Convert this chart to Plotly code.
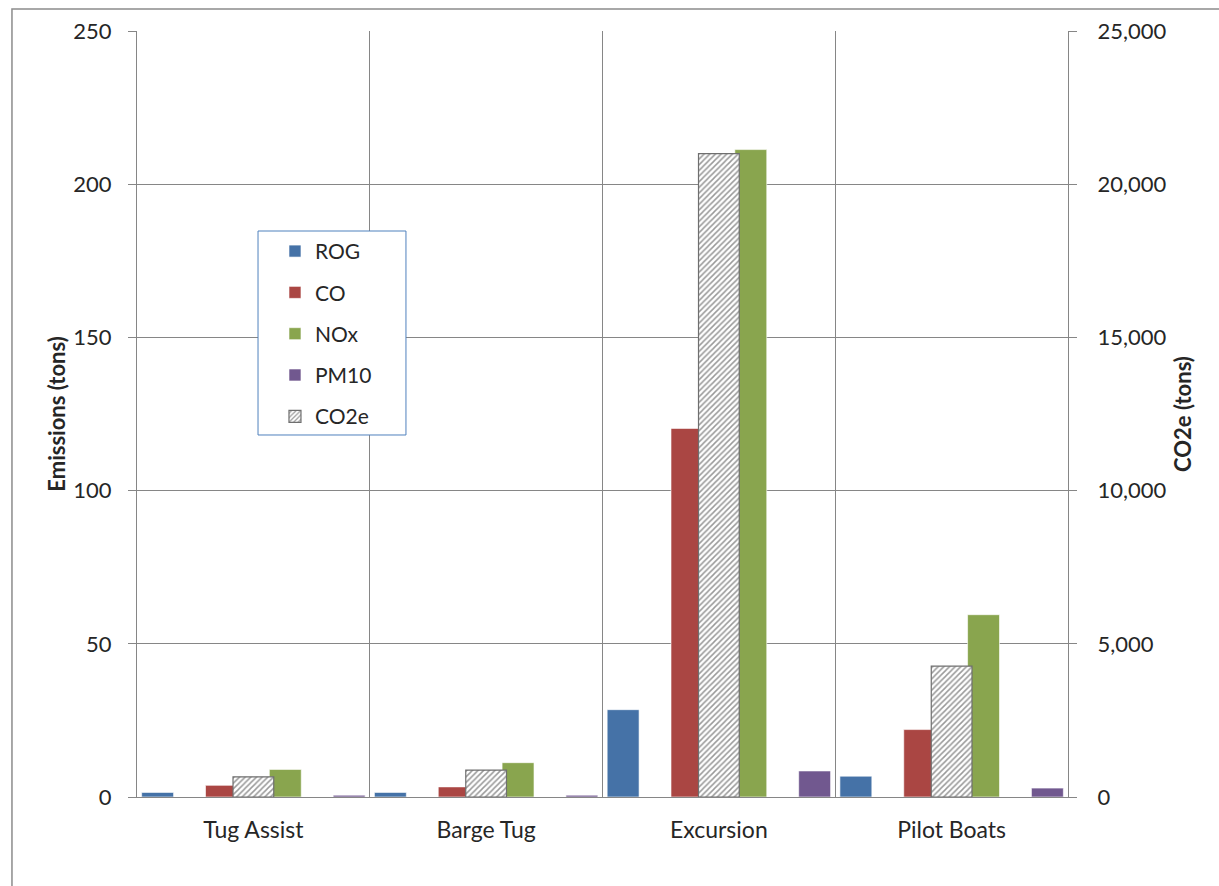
import plotly.graph_objects as go

categories = ["Tug Assist", "Barge Tug", "Excursion", "Pilot Boats"]
rog = [1.5, 1.5, 28.5, 6.8]
co = [3.8, 3.3, 120.3, 22.0]
nox = [9.0, 11.2, 211.3, 59.5]
pm10 = [0.6, 0.6, 8.5, 2.9]
co2e = [660, 880, 21000, 4270]

colors = {"ROG": "#4572A7", "CO": "#AA4643", "NOx": "#89A54E", "PM10": "#71588F"}
FONT = "Lato, 'Open Sans', sans-serif"
TXT = "#262626"

fig = go.Figure()

def bar(name, vals, color, show=True, rank=0):
    fig.add_trace(go.Bar(
        x=categories, y=vals, name=name,
        marker=dict(color=color, line=dict(color="rgba(255,255,255,0.6)", width=1)),
        showlegend=show, legendgroup=name, legendrank=rank,
        xaxis="x", yaxis="y"))

blank = [None] * len(categories)
bar("ROG", rog, colors["ROG"], rank=1)
bar("gap1", blank, "rgba(0,0,0,0)", show=False)
bar("CO", co, colors["CO"], rank=2)
bar("gap2", blank, "rgba(0,0,0,0)", show=False)
bar("NOx", nox, colors["NOx"], rank=3)
bar("gap3", blank, "rgba(0,0,0,0)", show=False)
bar("PM10", pm10, colors["PM10"], rank=4)

fig.add_trace(go.Bar(
    x=categories, y=co2e, name="CO2e", width=0.175,
    marker=dict(color="white", line=dict(color="#6F6F6F", width=1.2),
                pattern=dict(shape="/", fgcolor="#333333", bgcolor="white",
                             size=4, solidity=0.38)),
    legendgroup="CO2e", legendrank=5,
    xaxis="x2", yaxis="y2"))

fig.update_layout(
    width=1219, height=886,
    margin=dict(l=137, r=151, t=31, b=89),
    paper_bgcolor="white", plot_bgcolor="white",
    barmode="group", bargap=0.04, bargroupgap=0,
    font=dict(family=FONT, size=21, color=TXT),
    xaxis=dict(type="category", tickson="boundaries", showgrid=True,
               gridcolor="#868686", gridwidth=1, showline=True,
               linecolor="#868686", ticks="", tickfont=dict(size=23),
               ticklabelstandoff=12,
               range=[-0.5, 3.5], domain=[0, 1]),
    xaxis2=dict(type="category", overlaying="x", matches="x", visible=False,
                range=[-0.5, 3.5]),
    yaxis=dict(range=[0, 250], dtick=50, showgrid=True, gridcolor="#868686",
               gridwidth=1, showline=True, linecolor="#868686",
               ticks="outside", ticklen=8, tickcolor="#868686",
               tickfont=dict(size=22), zeroline=False, ticklabelstandoff=12,
               title=dict(text="<b>Emissions (tons)</b>", font=dict(size=22), standoff=1)),
    yaxis2=dict(range=[0, 25000], dtick=5000, overlaying="y", side="right",
                showgrid=False, showline=True, linecolor="#868686",
                ticks="outside", ticklen=8, tickcolor="#868686",
                tickformat=",d", tickfont=dict(size=22), zeroline=False,
                ticklabelstandoff=16,
                title=dict(text="<b>CO2e (tons)</b>", font=dict(size=22), standoff=10)),
    legend=dict(x=0.1482, y=0.739, xanchor="left", yanchor="top",
                bgcolor="rgba(0,0,0,0)", borderwidth=0,
                font=dict(size=21), traceorder="grouped", tracegroupgap=11,
                itemwidth=30),
    shapes=[
        dict(type="rect", xref="paper", yref="paper", layer="above",
             x0=0.13, x1=0.2889, y0=0.4726, y1=0.7389,
             fillcolor="white", line=dict(color="#4F81BD", width=1)),
        dict(type="path", xref="paper", yref="paper",
             path="M -0.1343 -0.2 L -0.1343 1.0287 L 1.2 1.0287",
             line=dict(color="#8C8C8C", width=1.5)),
    ],
)

fig.write_html("out.html")
